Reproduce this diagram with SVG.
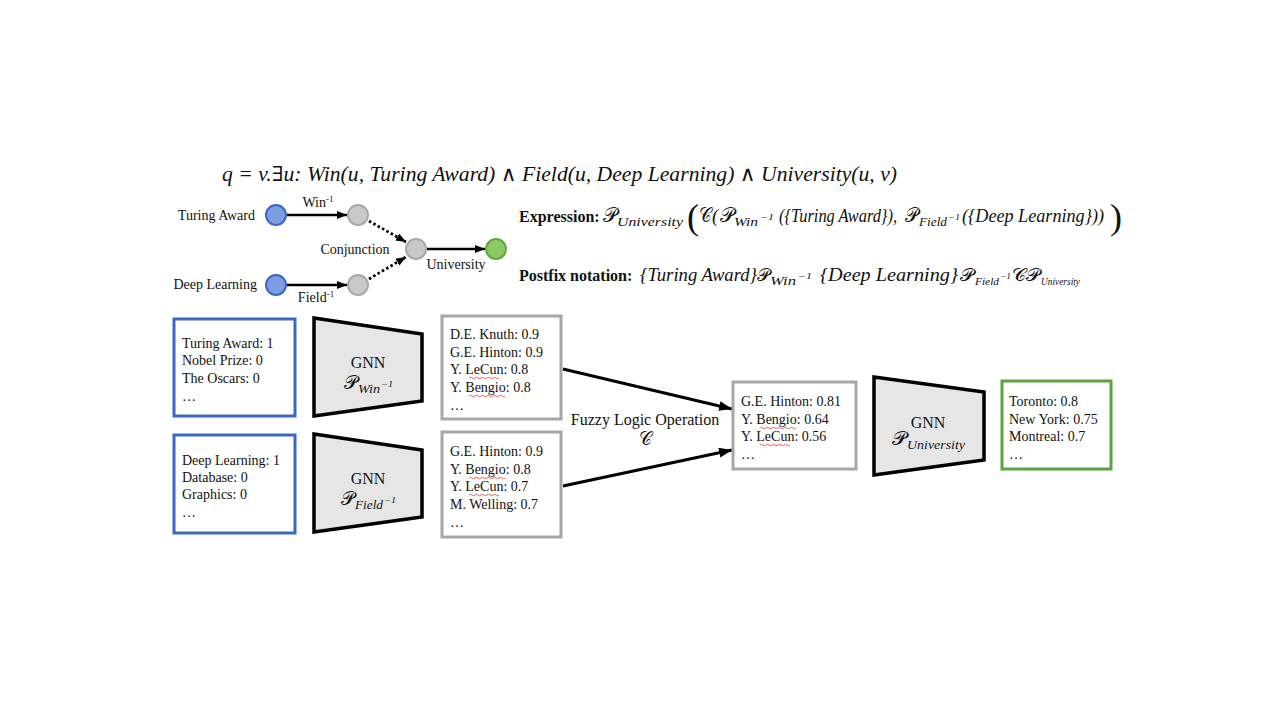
<svg xmlns="http://www.w3.org/2000/svg" width="1280" height="720" viewBox="0 0 1280 720">
<defs>
<style>
.t{font-family:"Liberation Serif","Times New Roman",serif;fill:#111;}
.m{font-family:"Liberation Serif","DejaVu Serif",serif;font-style:italic;fill:#111;}
.s{font-family:"DejaVu Serif","Liberation Serif",serif;fill:#111;}
.b{font-weight:bold;}
.blue{fill:#fff;stroke:#3a66c4;stroke-width:3;}
.gray{fill:#fff;stroke:#a6a6a6;stroke-width:3;}
.green{fill:#fff;stroke:#5ba33a;stroke-width:3;}
.trap{fill:#e6e6e6;stroke:#000;stroke-width:3.5;stroke-linejoin:miter;}
.nb{fill:#7d9de0;stroke:#3a66c4;stroke-width:2;}
.ng{fill:#c8c8c8;stroke:#a8a8a8;stroke-width:2;}
.ngr{fill:#8cc866;stroke:#5aaa3a;stroke-width:2;}
.sq{fill:none;stroke:#e05050;stroke-width:0.9;}
</style>
<marker id="ah" markerWidth="10" markerHeight="8" refX="10" refY="4" orient="auto" markerUnits="userSpaceOnUse"><path d="M0,0 L10,4 L0,8 z" fill="#000"/></marker>
<marker id="ahb" markerWidth="13" markerHeight="10" refX="13" refY="5" orient="auto" markerUnits="userSpaceOnUse"><path d="M0,0 L13,5 L0,10 z" fill="#000"/></marker>
</defs>
<rect width="1280" height="720" fill="#fff"/>

<g id="query">
<text class="m" x="222" y="181" font-size="21" textLength="675" lengthAdjust="spacingAndGlyphs">q = v.∃u: Win(u, Turing Award) ∧ Field(u, Deep Learning) ∧ University(u, v)</text>
</g>

<g id="connectors">
<line x1="287" y1="215" x2="347" y2="215" stroke="#000" stroke-width="2.5" marker-end="url(#ah)"/>
<line x1="287" y1="285" x2="347" y2="285" stroke="#000" stroke-width="2.5" marker-end="url(#ah)"/>
<line x1="369" y1="221" x2="406" y2="242" stroke="#000" stroke-width="2.8" stroke-dasharray="2.5 2.5" marker-end="url(#ah)"/>
<line x1="369" y1="279" x2="406" y2="257" stroke="#000" stroke-width="2.8" stroke-dasharray="2.5 2.5" marker-end="url(#ah)"/>
<line x1="426" y1="249" x2="485" y2="249" stroke="#000" stroke-width="2.5" marker-end="url(#ah)"/>
<line x1="563" y1="369" x2="732" y2="409" stroke="#000" stroke-width="3" marker-end="url(#ahb)"/>
<line x1="563" y1="486" x2="732" y2="450" stroke="#000" stroke-width="3" marker-end="url(#ahb)"/>
</g>

<g id="graph-labels">
<text class="t" x="255" y="220" font-size="14" text-anchor="end">Turing Award</text>
<text class="t" x="257" y="289" font-size="14" text-anchor="end">Deep Learning</text>
<text class="t" x="318" y="207" font-size="14" text-anchor="middle">Win<tspan font-size="9" dy="-5">-1</tspan></text>
<text class="t" x="316" y="302" font-size="14" text-anchor="middle">Field<tspan font-size="9" dy="-5">-1</tspan></text>
<text class="t" x="355" y="254" font-size="14" text-anchor="middle">Conjunction</text>
<text class="t" x="456" y="269" font-size="14" text-anchor="middle">University</text>
</g>

<g id="n-turing"><circle class="nb" cx="276" cy="215" r="10"/></g>
<g id="n-deep"><circle class="nb" cx="276" cy="285" r="10"/></g>
<g id="n-win"><circle class="ng" cx="358" cy="215" r="10"/></g>
<g id="n-field"><circle class="ng" cx="358" cy="285" r="10"/></g>
<g id="n-conj"><circle class="ng" cx="416" cy="249" r="10"/></g>
<g id="n-univ"><circle class="ngr" cx="496" cy="249" r="10"/></g>

<g id="expression">
<text class="t b" x="519" y="222" font-size="16">Expression:</text>
<text class="s" x="603" y="222" font-size="20" textLength="14" lengthAdjust="spacingAndGlyphs">𝒫</text>
<text class="m" x="617" y="226" font-size="13" textLength="66" lengthAdjust="spacingAndGlyphs">University</text>
<text class="t" x="687" y="229" font-size="36" font-weight="300">(</text>
<text class="s" x="699" y="222" font-size="20" textLength="13" lengthAdjust="spacingAndGlyphs">𝒞</text>
<text class="m" x="712" y="222" font-size="19">(</text>
<text class="s" x="720" y="222" font-size="20" textLength="14" lengthAdjust="spacingAndGlyphs">𝒫</text>
<text class="m" x="734" y="226" font-size="13" textLength="24" lengthAdjust="spacingAndGlyphs">Win</text>
<text class="m" x="760" y="220" font-size="9" textLength="14" lengthAdjust="spacingAndGlyphs">−1</text>
<text class="m" x="779" y="222" font-size="19" textLength="118" lengthAdjust="spacingAndGlyphs">({Turing Award}),</text>
<text class="s" x="905" y="222" font-size="20" textLength="13" lengthAdjust="spacingAndGlyphs">𝒫</text>
<text class="m" x="919" y="226" font-size="13" textLength="28" lengthAdjust="spacingAndGlyphs">Field</text>
<text class="m" x="948" y="220" font-size="9" textLength="12" lengthAdjust="spacingAndGlyphs">−1</text>
<text class="m" x="962" y="222" font-size="19" textLength="142" lengthAdjust="spacingAndGlyphs">({Deep Learning}))</text>
<text class="t" x="1110" y="229" font-size="36" font-weight="300">)</text>
</g>

<g id="postfix">
<text class="t b" x="519" y="281" font-size="16">Postfix notation:</text>
<text class="m" x="640" y="281" font-size="19" textLength="117" lengthAdjust="spacingAndGlyphs">{Turing Award}</text>
<text class="s" x="757" y="281" font-size="18" textLength="13" lengthAdjust="spacingAndGlyphs">𝒫</text>
<text class="m" x="770" y="285" font-size="12" textLength="26" lengthAdjust="spacingAndGlyphs">Win</text>
<text class="m" x="798" y="279" font-size="9" textLength="14" lengthAdjust="spacingAndGlyphs">−1</text>
<text class="m" x="820" y="281" font-size="19" textLength="138" lengthAdjust="spacingAndGlyphs">{Deep Learning}</text>
<text class="s" x="960" y="281" font-size="18" textLength="14" lengthAdjust="spacingAndGlyphs">𝒫</text>
<text class="m" x="975" y="285" font-size="11" textLength="24" lengthAdjust="spacingAndGlyphs">Field</text>
<text class="m" x="1000" y="279" font-size="8" textLength="11" lengthAdjust="spacingAndGlyphs">−1</text>
<text class="s" x="1012" y="281" font-size="18" textLength="28" lengthAdjust="spacingAndGlyphs">𝒞𝒫</text>
<text class="m" x="1041" y="285" font-size="11" textLength="39" lengthAdjust="spacingAndGlyphs">University</text>
</g>

<g id="in-turing">
<rect class="blue" x="174" y="319" width="121" height="97"/>
<text class="t" x="182" font-size="14"><tspan x="182" y="348">Turing Award: 1</tspan><tspan x="182" y="365">Nobel Prize: 0</tspan><tspan x="182" y="383">The Oscars: 0</tspan><tspan x="182" y="401">…</tspan></text>
</g>
<g id="in-deep">
<rect class="blue" x="174" y="435" width="121" height="98"/>
<text class="t" x="182" font-size="14"><tspan x="182" y="465">Deep Learning: 1</tspan><tspan x="182" y="482">Database: 0</tspan><tspan x="182" y="499">Graphics: 0</tspan><tspan x="182" y="517">…</tspan></text>
</g>

<g id="gnn-win">
<polygon class="trap" points="314,318 422,334 422,401 314,416"/>
<text class="t" x="368" y="368" font-size="16" text-anchor="middle">GNN</text>
<text class="s" x="344" y="389" font-size="19" textLength="14" lengthAdjust="spacingAndGlyphs">𝒫</text>
<text class="m" x="358" y="393" font-size="12" textLength="22" lengthAdjust="spacingAndGlyphs">Win</text>
<text class="m" x="381" y="387" font-size="8" textLength="12" lengthAdjust="spacingAndGlyphs">−1</text>
</g>
<g id="gnn-field">
<polygon class="trap" points="314,434 422,450 422,517 314,532"/>
<text class="t" x="368" y="484" font-size="16" text-anchor="middle">GNN</text>
<text class="s" x="341" y="505" font-size="19" textLength="14" lengthAdjust="spacingAndGlyphs">𝒫</text>
<text class="m" x="355" y="509" font-size="12" textLength="28" lengthAdjust="spacingAndGlyphs">Field</text>
<text class="m" x="384" y="503" font-size="8" textLength="12" lengthAdjust="spacingAndGlyphs">−1</text>
</g>

<g id="out-win">
<rect class="gray" x="442" y="316" width="119" height="103"/>
<text class="t" font-size="14"><tspan x="450" y="339">D.E. Knuth: 0.9</tspan><tspan x="450" y="357">G.E. Hinton: 0.9</tspan><tspan x="450" y="374">Y. LeCun: 0.8</tspan><tspan x="450" y="392">Y. Bengio: 0.8</tspan><tspan x="450" y="410">…</tspan></text>
<path class="sq" d="M469,378 q1.5,-1.5 3,0 t3,0 t3,0 t3,0 t3,0 t3,0 t3,0 t3,0 t3,0 t3,0"/>
<path class="sq" d="M469,396 q1.5,-1.5 3,0 t3,0 t3,0 t3,0 t3,0 t3,0 t3,0 t3,0 t3,0 t3,0 t3,0 t3,0"/>
</g>
<g id="out-field">
<rect class="gray" x="442" y="432" width="119" height="105"/>
<text class="t" font-size="14"><tspan x="450" y="456">G.E. Hinton: 0.9</tspan><tspan x="450" y="474">Y. Bengio: 0.8</tspan><tspan x="450" y="491">Y. LeCun: 0.7</tspan><tspan x="450" y="509">M. Welling: 0.7</tspan><tspan x="450" y="527">…</tspan></text>
<path class="sq" d="M469,478 q1.5,-1.5 3,0 t3,0 t3,0 t3,0 t3,0 t3,0 t3,0 t3,0 t3,0 t3,0 t3,0 t3,0"/>
<path class="sq" d="M469,495 q1.5,-1.5 3,0 t3,0 t3,0 t3,0 t3,0 t3,0 t3,0 t3,0 t3,0 t3,0"/>
</g>

<g id="fuzzy">
<text class="t" x="645" y="425" font-size="16" text-anchor="middle">Fuzzy Logic Operation</text>
<text class="s" x="639" y="445" font-size="19" textLength="13" lengthAdjust="spacingAndGlyphs">𝒞</text>
</g>

<g id="out-conj">
<rect class="gray" x="733" y="382" width="123" height="87"/>
<text class="t" font-size="14"><tspan x="741" y="406">G.E. Hinton: 0.81</tspan><tspan x="741" y="424">Y. Bengio: 0.64</tspan><tspan x="741" y="441">Y. LeCun: 0.56</tspan><tspan x="741" y="459">…</tspan></text>
<path class="sq" d="M760,428 q1.5,-1.5 3,0 t3,0 t3,0 t3,0 t3,0 t3,0 t3,0 t3,0 t3,0 t3,0 t3,0 t3,0"/>
<path class="sq" d="M760,445 q1.5,-1.5 3,0 t3,0 t3,0 t3,0 t3,0 t3,0 t3,0 t3,0 t3,0 t3,0"/>
</g>

<g id="gnn-univ">
<polygon class="trap" points="874,377 984,392 984,460 874,475"/>
<text class="t" x="928" y="428" font-size="16" text-anchor="middle">GNN</text>
<text class="s" x="892" y="445" font-size="19" textLength="15" lengthAdjust="spacingAndGlyphs">𝒫</text>
<text class="m" x="907" y="449" font-size="12" textLength="58" lengthAdjust="spacingAndGlyphs">University</text>
</g>

<g id="answers">
<rect class="green" x="1002" y="381" width="109" height="88"/>
<text class="t" font-size="14"><tspan x="1009" y="406">Toronto: 0.8</tspan><tspan x="1009" y="424">New York: 0.75</tspan><tspan x="1009" y="441">Montreal: 0.7</tspan><tspan x="1009" y="459">…</tspan></text>
</g>
</svg>
